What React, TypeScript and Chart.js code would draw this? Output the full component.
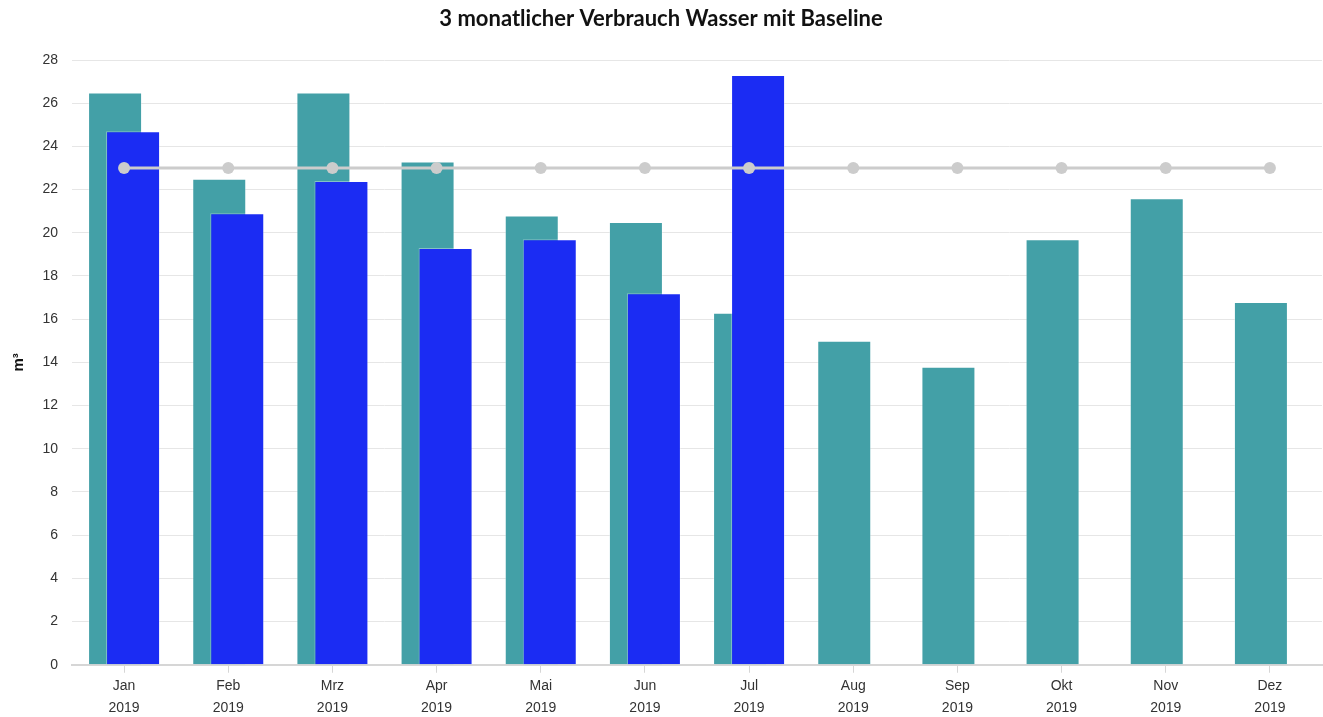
import React, { useEffect, useRef } from "react";
import { Chart, registerables } from "chart.js";

Chart.register(...registerables);

const months = ["Jan", "Feb", "Mrz", "Apr", "Mai", "Jun", "Jul", "Aug", "Sep", "Okt", "Nov", "Dez"];
const years = ["2019", "2019", "2019", "2019", "2019", "2019", "2019", "2019", "2019", "2019", "2019", "2019"];
const tealValues = [26.5, 22.5, 26.5, 23.3, 20.8, 20.5, 16.3, 15.0, 13.8, 19.7, 21.6, 16.8];
const blueValues: (number | null)[] = [24.7, 20.9, 22.4, 19.3, 19.7, 17.2, 27.3, null, null, null, null, null];
const baselineValues = [23, 23, 23, 23, 23, 23, 23, 23, 23, 23, 23, 23];

const TEAL_INDEX = 0;

const drawOrderPlugin = {
  id: "tealFirst",
  beforeDatasetsDraw(chart: any) {
    const meta = chart.getDatasetMeta(TEAL_INDEX);
    if (meta && meta.visible !== false) {
      meta.controller.draw();
    }
  },
  beforeDatasetDraw(_chart: any, args: any) {
    if (args.index === TEAL_INDEX) return false;
    return true;
  },
};

export default function App() {
  const ref = useRef<HTMLCanvasElement | null>(null);

  useEffect(() => {
    if (!ref.current) return;
    const labels = months.map((m, i) => [m, years[i]]);
    const chart = new Chart(ref.current, {
      type: "bar",
      data: {
        labels,
        datasets: [
          {
            type: "bar",
            label: "Vorjahr",
            data: tealValues,
            backgroundColor: "#43a0a7",
            borderColor: "rgba(255,255,255,0.35)",
            borderWidth: 1,
            categoryPercentage: 0.3456,
            barPercentage: 3,
          } as any,
          {
            type: "bar",
            label: "Verbrauch",
            data: blueValues,
            backgroundColor: "#1b2cf3",
            borderColor: "rgba(255,255,255,0.35)",
            borderWidth: 1,
            categoryPercentage: 0.3456,
            barPercentage: 3,
          } as any,
          {
            type: "line",
            label: "Baseline",
            data: baselineValues,
            order: -1,
            borderColor: "#cccccc",
            backgroundColor: "#cccccc",
            borderWidth: 3,
            pointRadius: 6,
            pointBorderWidth: 0,
            pointBackgroundColor: "#cccccc",
            fill: false,
            tension: 0,
          } as any,
        ],
      },
      options: {
        animation: false,
        responsive: true,
        maintainAspectRatio: false,
        layout: { autoPadding: false, padding: { left: 0, right: 1, top: 0, bottom: -4 } },
        plugins: {
          legend: { display: false },
          tooltip: { enabled: false },
          title: {
            display: true,
            text: "3 monatlicher Verbrauch Wasser mit Baseline",
            color: "#111111",
            font: { family: "Lato", size: 22, weight: "bold", lineHeight: 1.2 },
            padding: { top: 6, bottom: 27.6 },
          },
        },
        scales: {
          x: {
            offset: true,
            grid: {
              display: true,
              offset: false,
              drawOnChartArea: false,
              drawTicks: true,
              tickLength: 8,
              color: "#d6d6d6",
            },
            border: { display: true, color: "#d6d6d6", width: 2 },
            ticks: {
              color: "#333333",
              font: { family: "Liberation Sans", size: 14, lineHeight: 1.58 },
              padding: 2,
              maxRotation: 0,
              autoSkip: false,
            },
            afterFit(scale: any) {
              scale.paddingLeft = 0;
              scale.paddingRight = 0;
            },
          },
          y: {
            min: 0,
            max: 28,
            ticks: {
              stepSize: 2,
              color: "#333333",
              font: { family: "Liberation Sans", size: 14 },
              padding: 14,
            },
            grid: { color: "#e6e6e6", lineWidth: 1, drawTicks: false },
            border: { display: false },
            title: {
              display: true,
              text: "m³",
              color: "#111111",
              font: { family: "Liberation Sans", size: 15, weight: "bold" },
              padding: { top: 10, bottom: 0 },
            },
            afterFit(scale: any) {
              scale.width = 72;
            },
          },
        },
      },
      plugins: [drawOrderPlugin],
    });
    return () => chart.destroy();
  }, []);

  return (
    <div style={{ position: "absolute", left: 0, top: 0, width: 1323, height: 717, background: "#ffffff" }}>
      <canvas ref={ref} />
    </div>
  );
}
